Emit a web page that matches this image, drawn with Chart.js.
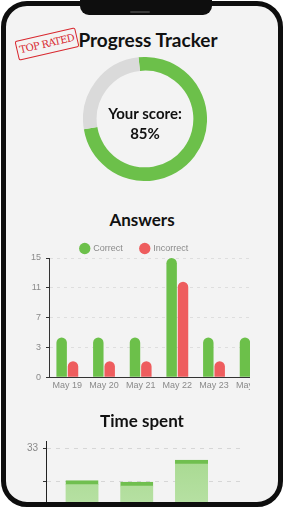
<!DOCTYPE html>
<html>
<head>
<meta charset="utf-8">
<script src="https://cdn.jsdelivr.net/npm/chart.js@4.4.1/dist/chart.umd.min.js"></script>
<style>
  html, body { margin: 0; padding: 0; }
  body { width: 288px; height: 512px; overflow: hidden; background: #fff; position: relative; font-family: Lato, "Open Sans", sans-serif; }
  .frame { position: absolute; left: 1px; top: 1px; width: 282px; height: 506px; box-sizing: border-box; border: 5px solid #0e0e0e; border-radius: 26px; background: #f3f3f3; }
  .screen { position: absolute; left: 0; top: 0; width: 288px; height: 512px; clip-path: inset(6px 10px 10px 6px round 21px); }
  .notch { position: absolute; left: 80px; top: 0; width: 132px; height: 15px; background: #0e0e0e; border-radius: 0 0 9px 9px; }
  .speaker { position: absolute; left: 50px; top: 11px; width: 20px; height: 2px; background: #3a3a3a; border-radius: 1px; }
  .title { position: absolute; left: 0; width: 288px; text-align: center; font-weight: 700; color: #111; }
  .stamp { position: absolute; left: 16px; top: 34px; width: 60px; height: 18px; border: 1.5px solid #d8262d; border-radius: 2px; transform: rotate(-13deg); color: #d8262d; font-family: "DejaVu Serif", "Liberation Serif", serif; font-size: 10px; line-height: 18px; text-align: center; letter-spacing: -0.6px; }
  .score { position: absolute; left: 85px; width: 120px; text-align: center; font-size: 15px; font-weight: 700; color: #111; }
  canvas { position: absolute; }
  .clip { position: absolute; left: 0; top: 0; width: 250px; height: 512px; overflow: hidden; }
</style>
</head>
<body>
<div class="frame"></div>
<div class="screen">
  <div class="title" style="top: 28px; font-size: 19px; left: 4px;">Progress Tracker</div>
  <div class="stamp">TOP RATED</div>
  <canvas id="scoreChart" width="124" height="124" style="left: 83px; top: 57px;"></canvas>
  <div class="score" style="top: 104px;">Your score:</div>
  <div class="score" style="top: 124px;">85%</div>

  <div class="title" style="top: 209px; font-size: 17px; left: -2px;">Answers</div>
  <div class="clip">
    <canvas id="answersChart" width="270" height="171" style="left: 0; top: 226px;"></canvas>
  </div>

  <div class="title" style="top: 410px; font-size: 17px; left: -2px;">Time spent</div>
  <canvas id="timeChart" width="242" height="128" style="left: 0; top: 430px;"></canvas>
</div>
<div class="notch"><div class="speaker"></div></div>

<script>
// score ring
var scoreParts = [74, 26];

// answers per day
var answerDays = ["May 19", "May 20", "May 21", "May 22", "May 23", "May 24"];
var correctAnswers = [5, 5, 5, 15, 5, 5];
var incorrectAnswers = [2, 2, 2, 12, 2, 2];
var answerTickLabels = ["0", "3", "7", "11", "15"];

// time spent
var timeDays = [1, 2, 3];
var timeValues = [22.3, 21.8, 29.2];
var timeTicks = [22, 33];
var timeTickLabels = ["", "33"];

var green = '#6cc04a';
var red = '#ee5d5e';
var axisFont = { size: 9, family: 'Liberation Sans' };

// legend is too tall with wide item padding, trim it
var shortLegend = {
    id: 'shortLegend',
    afterInit: function(chart) {
        var legend = chart.legend;
        var fit = legend.fit;
        legend.fit = function() {
            fit.call(this);
            this.height = 32;
        };
    }
};

var scoreCanvas = document.getElementById("scoreChart");
var scoreChart = new Chart(scoreCanvas, {
    type: 'doughnut',
    data: {
        labels: ['Score', 'Rest'],
        datasets: [{
            data: scoreParts,
            backgroundColor: [green, '#dadada'],
            borderWidth: 0
        }]
    },
    options: {
        responsive: false,
        animation: false,
        devicePixelRatio: 1,
        rotation: -6,
        cutout: '78%',
        plugins: {
            legend: { display: false },
            tooltip: { enabled: false }
        }
    }
});

var answersCanvas = document.getElementById("answersChart");
var answersChart = new Chart(answersCanvas, {
    type: 'bar',
    data: {
        labels: answerDays,
        datasets: [{
            label: 'Correct',
            data: correctAnswers,
            backgroundColor: green,
            borderRadius: 6,
            borderSkipped: 'start'
        }, {
            label: 'Incorrect',
            data: incorrectAnswers,
            backgroundColor: red,
            borderRadius: 6,
            borderSkipped: 'start'
        }]
    },
    options: {
        responsive: false,
        animation: false,
        devicePixelRatio: 1,
        categoryPercentage: 0.62,
        barPercentage: 0.92,
        layout: { padding: { right: 1, bottom: 3 } },
        scales: {
            x: {
                grid: { display: false, drawTicks: false },
                border: { display: true, color: '#333', width: 1 },
                ticks: { color: '#8a8a8a', font: axisFont, padding: 3 }
            },
            y: {
                min: 0,
                max: 15,
                afterFit: function(scale) { scale.width = 49; },
                afterBuildTicks: function(scale) {
                    scale.ticks = [0, 3.75, 7.5, 11.25, 15].map(function(v) { return { value: v }; });
                },
                ticks: {
                    color: '#8a8a8a',
                    font: axisFont,
                    padding: 5,
                    callback: function(value, index) { return answerTickLabels[index]; }
                },
                grid: { color: '#dedede', tickColor: '#333', tickLength: 3 },
                border: { display: true, color: '#333', width: 1, dash: [3, 4] }
            }
        },
        plugins: {
            legend: {
                labels: {
                    usePointStyle: true,
                    pointStyle: 'circle',
                    boxWidth: 8,
                    boxHeight: 8,
                    padding: 18,
                    color: '#8a8a8a',
                    font: axisFont
                }
            },
            tooltip: { enabled: false }
        }
    },
    plugins: [shortLegend]
});

var timeCanvas = document.getElementById("timeChart");
var timeChart = new Chart(timeCanvas, {
    type: 'bar',
    data: {
        datasets: [{
            label: 'Time spent',
            data: timeDays.map(function(d, i) { return { x: d, y: timeValues[i] }; }),
            backgroundColor: function(context) {
                var area = context.chart.chartArea;
                if (!area) return '#a9da93';
                var g = context.chart.ctx.createLinearGradient(0, area.top, 0, area.bottom);
                g.addColorStop(0, '#a3d78b');
                g.addColorStop(1, '#c4e7b3');
                return g;
            },
            borderColor: '#70bf4f',
            borderWidth: { top: 4, left: 0, right: 0, bottom: 0 },
            borderSkipped: 'start',
            barThickness: 33
        }]
    },
    options: {
        responsive: false,
        animation: false,
        devicePixelRatio: 1,
        layout: { padding: { top: 5 } },
        scales: {
            x: {
                type: 'linear',
                offset: false,
                min: 0.342,
                max: 3.922,
                display: false
            },
            y: {
                min: 0,
                max: 35.6,
                afterFit: function(scale) { scale.width = 46; },
                afterBuildTicks: function(scale) {
                    scale.ticks = timeTicks.map(function(v) { return { value: v }; });
                },
                ticks: {
                    color: '#8a8a8a',
                    font: { size: 10, family: 'Liberation Sans' },
                    padding: 5,
                    callback: function(value, index) { return timeTickLabels[index]; }
                },
                grid: { color: '#d6d6d6', tickColor: '#333', tickLength: 3 },
                border: { display: true, color: '#222', width: 1, dash: [4, 5] }
            }
        },
        plugins: {
            legend: { display: false },
            tooltip: { enabled: false }
        }
    }
});
</script>
</body>
</html>
